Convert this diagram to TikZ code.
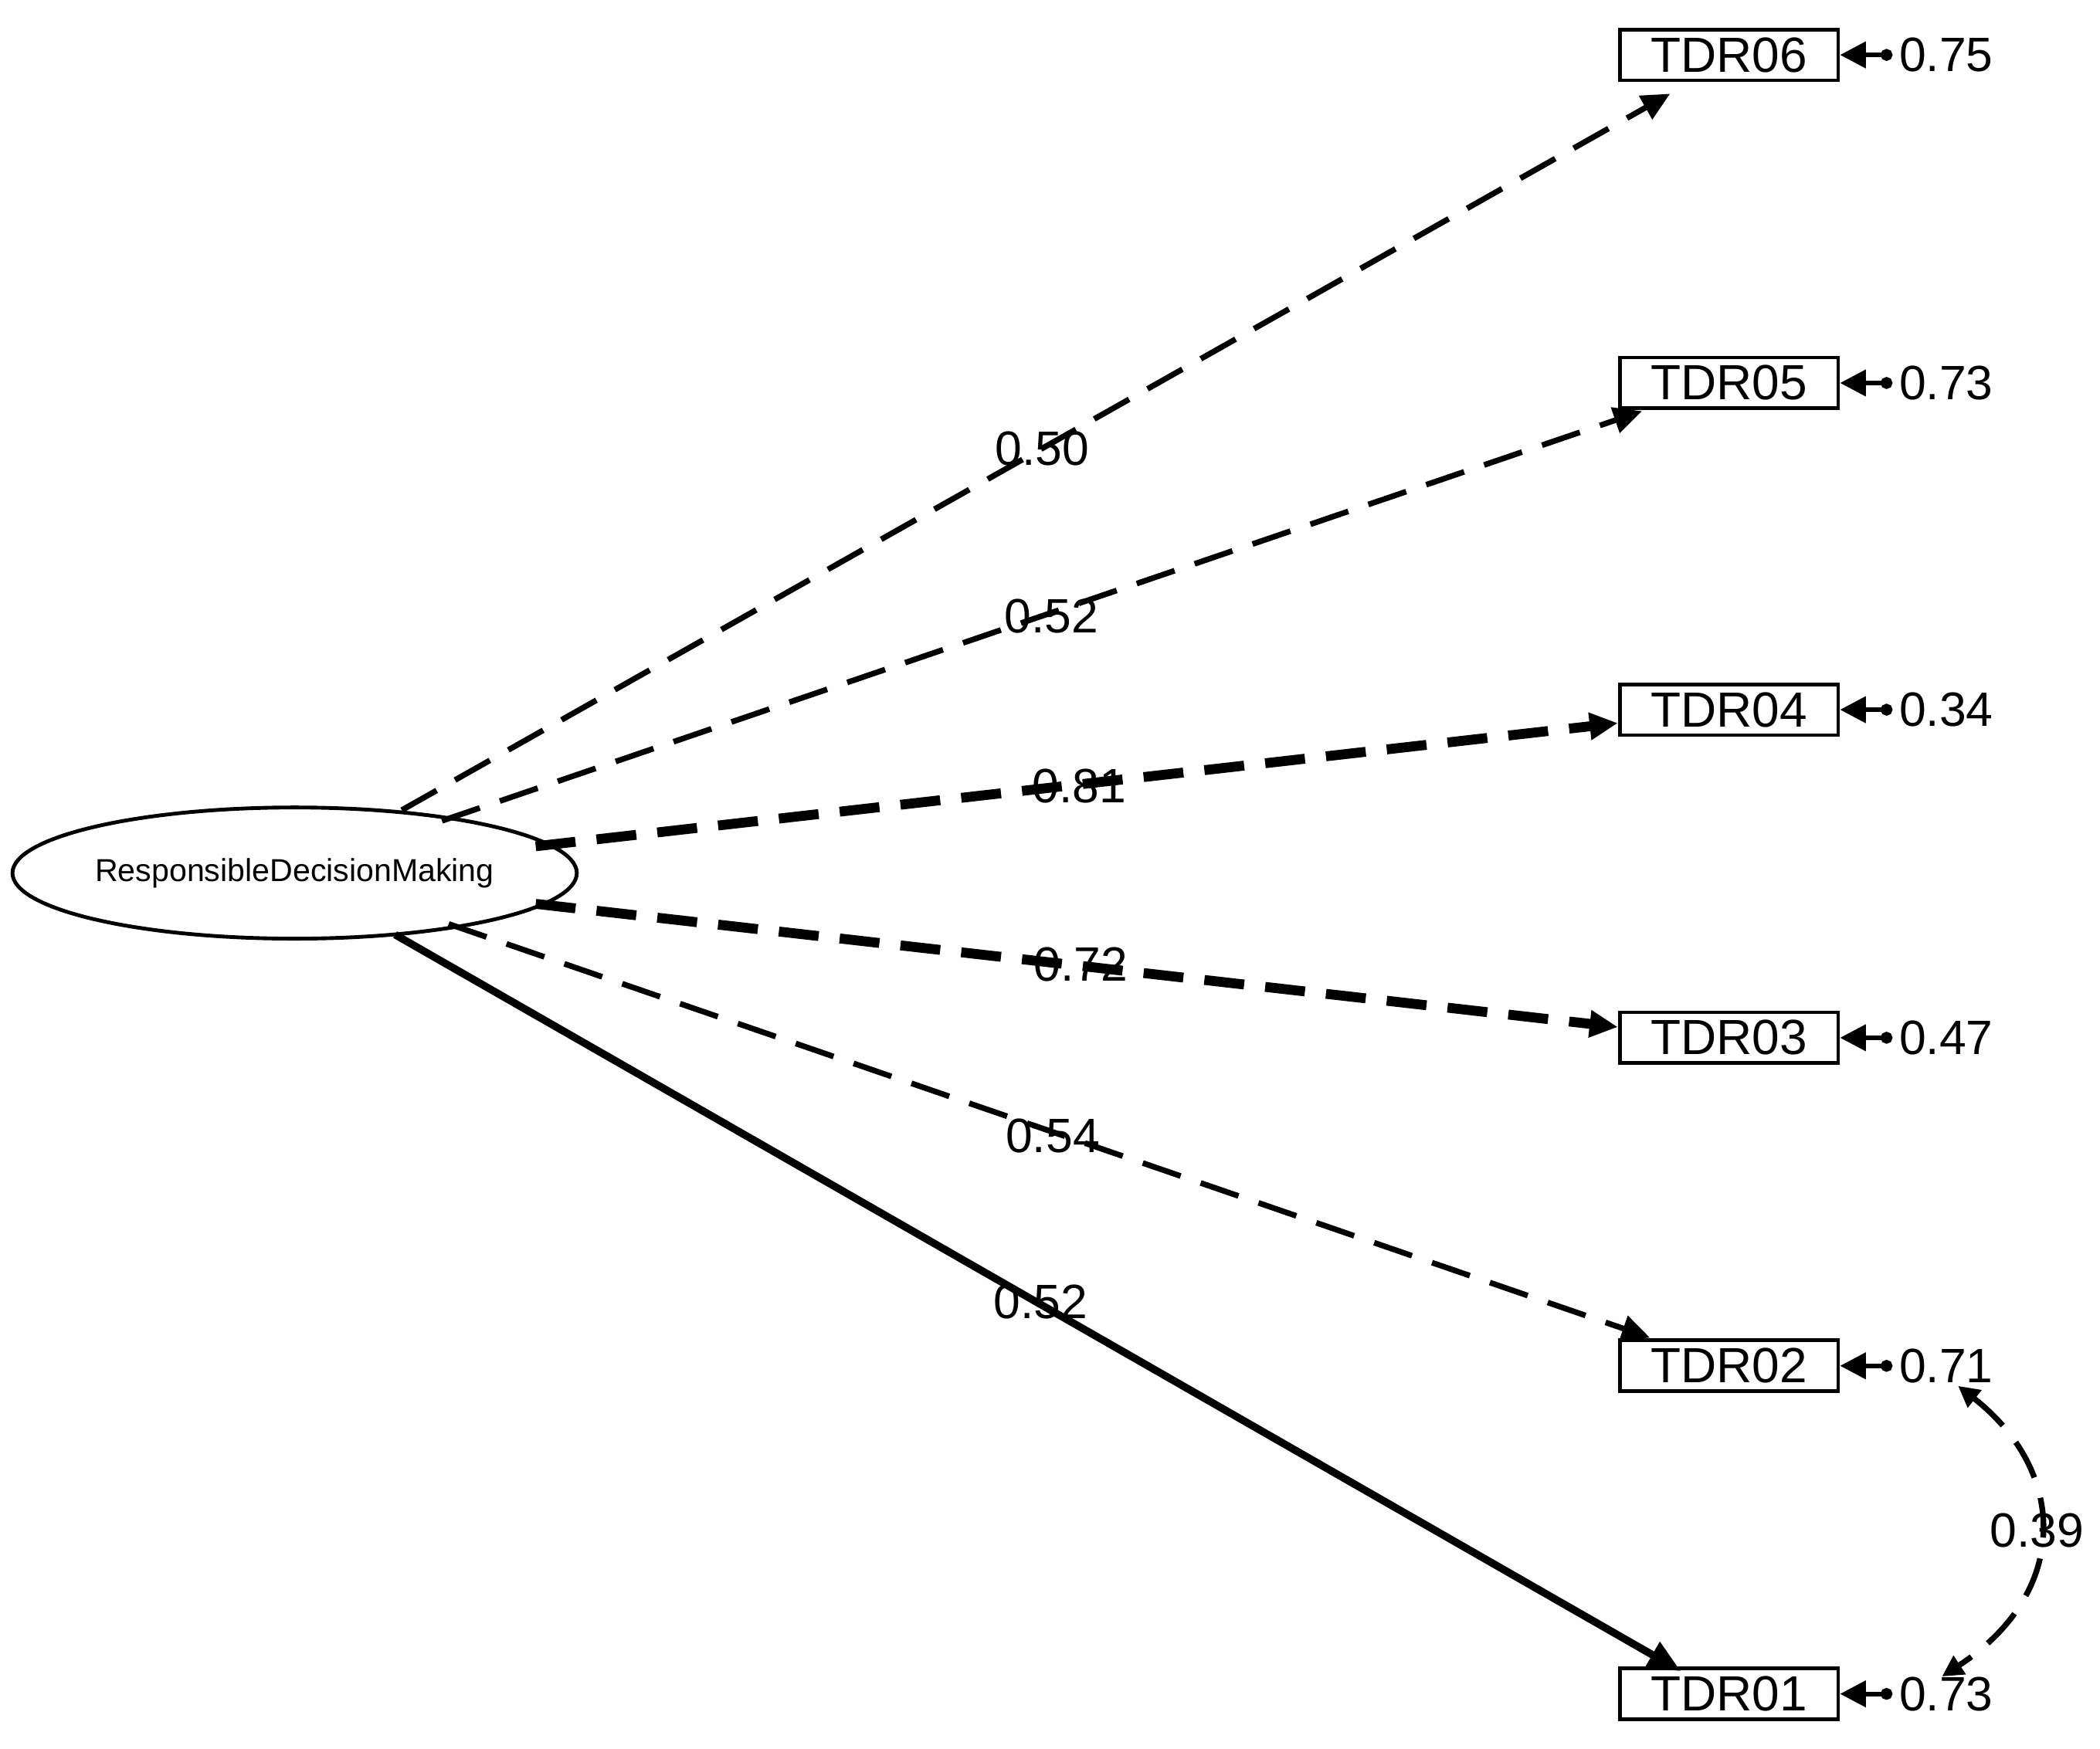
\documentclass[tikz,border=0pt]{standalone}
\usepackage{fontspec}
\setmainfont{Liberation Sans}
\usetikzlibrary{shapes.geometric,arrows.meta}
\begin{document}
\begin{tikzpicture}[x=0.02cm,y=-0.02cm,
  box/.style={draw,line width=1.6pt,minimum width=3.26cm,minimum height=0.76cm,inner sep=0pt,font=\fontsize{21}{24}\selectfont},
  lbl/.style={font=\fontsize{20.5}{24}\selectfont,inner sep=1pt},
  load/.style={line width=#1,dash pattern=on 17pt off 9pt,-{Triangle[length=12pt,width=11pt]}},
  res/.style={line width=2pt,{Triangle[length=11pt,width=11pt]}-{Circle[length=5pt]}}]
\useasboundingbox (0,0) rectangle (1568,1306);
\node[draw,ellipse,line width=1.6pt,minimum width=8.2cm,minimum height=1.96cm,inner sep=0pt,font=\fontsize{13.5}{16}\selectfont] (lv) at (220,652) {ResponsibleDecisionMaking};
\foreach \i/\y/\v in {6/41/0.75,5/286/0.73,4/530/0.34,3/775/0.47,2/1020/0.71,1/1265/0.73}{
  \node[box] (b\i) at (1291,\y) {TDR0\i};
  \coordinate (r\i) at (1413,\y);
  \draw[res] (b\i.east) -- (r\i);
  \node[lbl,anchor=west] (v\i) at (1416,\y) {\v};
}
\coordinate (s6) at (300,605); \coordinate (e6) at (1247,70);
\coordinate (s5) at (330,613); \coordinate (e5) at (1226,307);
\coordinate (s4) at (400,632); \coordinate (e4) at (1208,540);
\coordinate (s3) at (400,675); \coordinate (e3) at (1208,767);
\coordinate (s2) at (335,690); \coordinate (e2) at (1232,999);
\coordinate (s1) at (295,698); \coordinate (e1) at (1255,1248);
\draw[load=2.4pt] (s6) -- (e6);
\draw[load=2.4pt] (s5) -- (e5);
\draw[load=4.2pt] (s4) -- (e4);
\draw[load=4.2pt] (s3) -- (e3);
\draw[load=2.4pt] (s2) -- (e2);
\draw[line width=3.2pt,-{Triangle[length=14pt,width=12pt]}] (s1) -- (e1);
\node[lbl] (l6) at (778,335) {0.50};
\node[lbl] (l5) at (785,460) {0.52};
\node[lbl] (l4) at (806,587) {0.81};
\node[lbl] (l3) at (807,720) {0.72};
\node[lbl] (l2) at (786,848) {0.54};
\node[lbl] (l1) at (777,972) {0.52};
\coordinate (c1) at (1462,1035); \coordinate (c2) at (1450,1252);
\draw[line width=2.4pt,dash pattern=on 17pt off 9pt,{Triangle[length=9pt,width=9pt]}-{Triangle[length=9pt,width=9pt]}] (c1) .. controls (1545,1100) and (1545,1190) .. (c2);
\node[lbl] (l0) at (1521,1143) {0.39};
\end{tikzpicture}
\end{document}
